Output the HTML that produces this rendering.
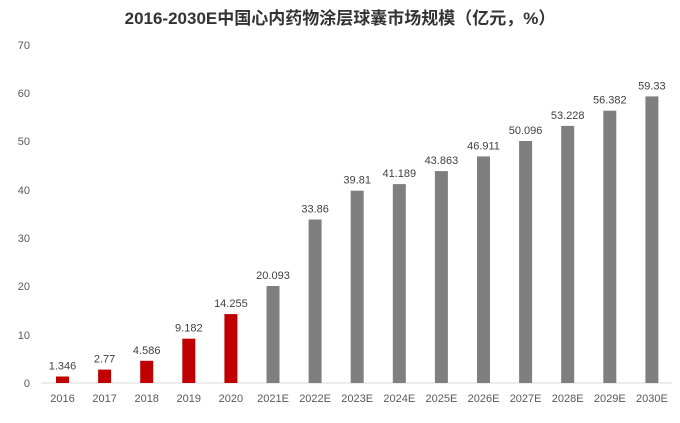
<!DOCTYPE html><html><head><meta charset="utf-8"><style>body{margin:0;background:#fff}</style></head><body>
<svg width="680" height="418" xmlns="http://www.w3.org/2000/svg" font-family="Liberation Sans, Noto Sans CJK SC, sans-serif">
<rect width="680" height="418" fill="#fff"/>
<text x="340" y="24" text-anchor="middle" font-size="17" font-weight="bold" fill="#333">2016-2030E中国心内药物涂层球囊市场规模（亿元，%）</text>
<g font-size="11" fill="#595959" text-anchor="end">
<text x="30" y="387">0</text><text x="30" y="339">10</text><text x="30" y="290">20</text><text x="30" y="242">30</text><text x="30" y="194">40</text><text x="30" y="145">50</text><text x="30" y="97">60</text><text x="30" y="49">70</text>
</g>
<line x1="41" y1="383" x2="672" y2="383" stroke="#d9d9d9"/>
<g fill="#C00000">
<rect x="56" y="376.5" width="13" height="6.5"/>
<rect x="98.1" y="369.6" width="13" height="13.4"/>
<rect x="140.2" y="360.8" width="13" height="22.2"/>
<rect x="182.3" y="338.7" width="13" height="44.3"/>
<rect x="224.4" y="314.1" width="13" height="68.9"/>
</g>
<g fill="#7F7F7F">
<rect x="266.5" y="286" width="13" height="97"/>
<rect x="308.6" y="219.5" width="13" height="163.5"/>
<rect x="350.7" y="190.7" width="13" height="192.3"/>
<rect x="392.8" y="184.1" width="13" height="198.9"/>
<rect x="434.9" y="171.1" width="13" height="211.9"/>
<rect x="477" y="156.4" width="13" height="226.6"/>
<rect x="519.1" y="141" width="13" height="242"/>
<rect x="561.2" y="125.9" width="13" height="257.1"/>
<rect x="603.3" y="110.7" width="13" height="272.3"/>
<rect x="645.4" y="96.4" width="13" height="286.6"/>
</g>
<g font-size="11" fill="#404040" text-anchor="middle">
<text x="62.5" y="369.5">1.346</text>
<text x="104.6" y="362.6">2.77</text>
<text x="146.7" y="353.8">4.586</text>
<text x="188.8" y="331.7">9.182</text>
<text x="230.9" y="307.1">14.255</text>
<text x="273" y="279">20.093</text>
<text x="315.1" y="212.5">33.86</text>
<text x="357.2" y="183.7">39.81</text>
<text x="399.3" y="177.1">41.189</text>
<text x="441.4" y="164.1">43.863</text>
<text x="483.5" y="149.4">46.911</text>
<text x="525.6" y="134">50.096</text>
<text x="567.7" y="118.9">53.228</text>
<text x="609.8" y="103.7">56.382</text>
<text x="651.9" y="89.4">59.33</text>
</g>
<g font-size="11" fill="#595959" text-anchor="middle">
<text x="62.5" y="402">2016</text><text x="104.6" y="402">2017</text><text x="146.7" y="402">2018</text><text x="188.8" y="402">2019</text><text x="230.9" y="402">2020</text>
<text x="273" y="402">2021E</text><text x="315.1" y="402">2022E</text><text x="357.2" y="402">2023E</text><text x="399.3" y="402">2024E</text><text x="441.4" y="402">2025E</text>
<text x="483.5" y="402">2026E</text><text x="525.6" y="402">2027E</text><text x="567.7" y="402">2028E</text><text x="609.8" y="402">2029E</text><text x="651.9" y="402">2030E</text>
</g>
</svg></body></html>
